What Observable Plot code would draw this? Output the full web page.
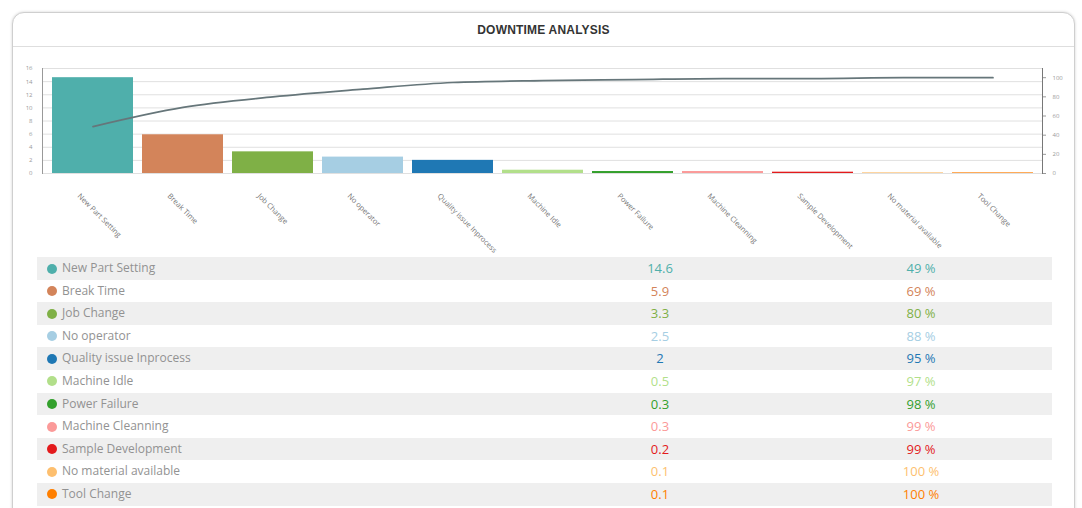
<!DOCTYPE html>
<html><head><meta charset="utf-8">
<script src="https://cdn.jsdelivr.net/npm/d3@7"></script>
<script src="https://cdn.jsdelivr.net/npm/@observablehq/plot@0.6"></script>
<style>
html,body{margin:0;padding:0;background:#fff;width:1082px;height:508px;overflow:hidden;font-family:"Open Sans",sans-serif;}
#card{position:absolute;left:12px;top:12px;width:1061px;height:540px;border:1px solid #cfcfcf;border-radius:12px;box-shadow:0 0 3px rgba(0,0,0,0.18);background:#fff;}
#head{position:absolute;left:0;top:0;right:0;height:33px;border-bottom:1px solid #dedede;text-align:center;font:bold 12px "Liberation Sans",Arial,sans-serif;line-height:34px;color:#333;letter-spacing:0.2px;}
#chart{position:absolute;left:0;top:50px;}
#chart g[aria-label="xlabels"] text{letter-spacing:0.4px;}
#table{position:absolute;left:37px;top:257px;width:1015px;}
.row{position:relative;height:22.6px;line-height:22.6px;}
.row.alt{background:#efefef;}
.dot{position:absolute;left:10px;top:6.5px;width:10px;height:10px;border-radius:50%;}
.name{position:absolute;left:25px;top:0;font-size:12px;color:#929292;white-space:nowrap;}
.val{position:absolute;left:623px;top:0;transform:translateX(-50%);font-size:13px;white-space:nowrap;}
.pct{position:absolute;left:884px;top:0;transform:translateX(-50%);font-size:13px;white-space:nowrap;}
</style></head>
<body>
<div id="card"><div id="head">DOWNTIME ANALYSIS</div></div>
<div id="chart"></div>
<div id="table"></div>
<script>
const categories = ["New Part Setting","Break Time","Job Change","No operator","Quality issue Inprocess","Machine Idle","Power Failure","Machine Cleanning","Sample Development","No material available","Tool Change"];
const values = [14.6, 5.9, 3.3, 2.5, 2, 0.5, 0.3, 0.3, 0.2, 0.1, 0.1];
const cumulativePct = [49, 69, 80, 88, 95, 97, 98, 99, 99, 100, 100];
const colors = ["#4fafab","#d3845a","#7fb046","#a6cee3","#1f78b4","#b2df8a","#33a02c","#fb9a99","#e31a1c","#fdbf6f","#ff7f00"];
const leftTicks = [0, 2, 4, 6, 8, 10, 12, 14, 16];
const rightTicks = [0, 20, 40, 60, 80, 100];

const k = d3.max(values) / 100; // right (percent) axis scaled to the tallest bar
const rows = categories.map((name, i) => ({name, value: values[i], cum: cumulativePct[i], color: colors[i]}));

const chart = Plot.plot({
  width: 1082, height: 205,
  marginLeft: 42, marginRight: 40, marginTop: 18, marginBottom: 82,
  style: {background: "transparent", fontFamily: "Open Sans, sans-serif", overflow: "visible"},
  x: {domain: categories, padding: 0.1, axis: null},
  y: {domain: [0, 16], axis: null},
  marks: [
    Plot.ruleY(leftTicks, {stroke: "#e0e0e0", strokeWidth: 1}),
    Plot.barY(rows, {x: "name", y: "value", fill: "color"}),
    Plot.lineY(rows, {x: "name", y: d => d.cum * k, stroke: "#66767a", strokeWidth: 1.7, curve: "monotone-x"}),
    Plot.axisY(leftTicks, {anchor: "left", tickSize: 0, tickPadding: 10, fontSize: 6, color: "#999", label: null}),
    Plot.axisY(rightTicks.map(t => t * k), {anchor: "right", tickSize: 3, tickPadding: 7, fontSize: 6, color: "#999", label: null, tickFormat: d => Math.round(d / k)}),
    Plot.frame({anchor: "left", stroke: "#999"}),
    Plot.frame({anchor: "right", stroke: "#777"}),
    Plot.text(categories, {x: d => d, frameAnchor: "bottom", dx: -16, dy: 23, rotate: 45, textAnchor: "start", fontSize: 7.5, fill: "#777", ariaLabel: "xlabels"})
  ]
});
document.getElementById("chart").appendChild(chart);

const table = d3.select("#table");
rows.forEach((r, i) => {
  const row = table.append("div").attr("class", "row" + (i % 2 === 0 ? " alt" : ""));
  row.append("span").attr("class", "dot").style("background", r.color);
  row.append("span").attr("class", "name").text(r.name);
  row.append("span").attr("class", "val").style("color", r.color).text(r.value);
  row.append("span").attr("class", "pct").style("color", r.color).text(r.cum + " %");
});
</script>
</body></html>
